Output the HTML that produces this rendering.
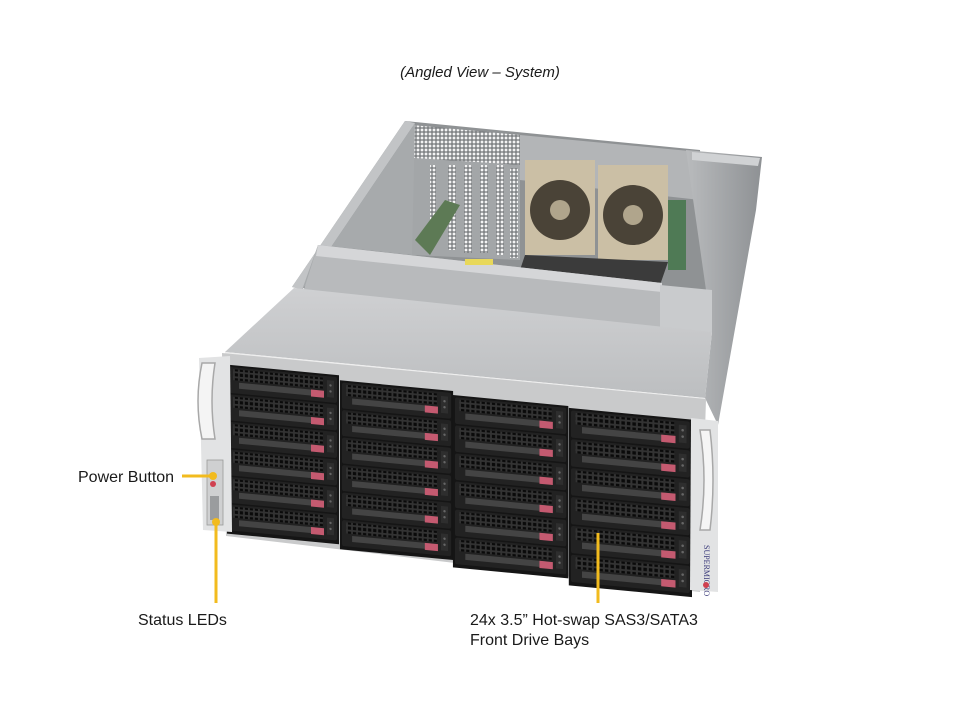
<!DOCTYPE html>
<html><head><meta charset="utf-8"><style>
html,body{margin:0;padding:0;background:#fff;width:960px;height:720px;overflow:hidden}
svg{display:block}
.t{font-family:"Liberation Sans",Arial,sans-serif;fill:#1a1a1a}
</style></head><body>
<svg width="960" height="720" viewBox="0 0 960 720" xmlns="http://www.w3.org/2000/svg">
<defs>
<pattern id="holes" width="5" height="5" patternUnits="userSpaceOnUse">
<rect width="5" height="5" fill="#333"/><rect x="0.8" y="0.8" width="3.2" height="3.2" fill="#0a0a0a"/>
</pattern>
<pattern id="grid" width="4" height="4" patternUnits="userSpaceOnUse">
<rect width="4" height="4" fill="#6f7275"/><rect x="0.6" y="0.6" width="2.8" height="2.8" fill="#f4f4f4"/>
</pattern>
<linearGradient id="lid" x1="0" y1="0" x2="0" y2="1">
<stop offset="0" stop-color="#cfd0d2"/><stop offset="1" stop-color="#bcbec0"/>
</linearGradient>
<linearGradient id="side" x1="0" y1="0" x2="1" y2="0">
<stop offset="0" stop-color="#b9bbbd"/><stop offset="1" stop-color="#8e9194"/>
</linearGradient>
<g id="drv">
<rect x="0" y="0" width="108" height="26" rx="2" fill="#222"/>
<rect x="4" y="2" width="90" height="11" fill="url(#holes)"/>
<rect x="10" y="15" width="78" height="6" fill="#444"/>
<rect x="82" y="15" width="13" height="7" fill="#c45a70"/>
<rect x="98" y="4" width="7" height="17" fill="#2e2e2e"/>
<circle cx="101.5" cy="9" r="1.2" fill="#666"/><circle cx="101.5" cy="15" r="1.2" fill="#666"/>
</g>
<g id="col">
<rect x="-2" y="-2" width="112" height="169" fill="#151515"/>
<use href="#drv" y="0"/><use href="#drv" y="27.5"/><use href="#drv" y="55"/>
<use href="#drv" y="82.5"/><use href="#drv" y="110"/><use href="#drv" y="137.5"/>
</g>
</defs>

<text class="t" x="480" y="77" font-size="15" font-style="italic" text-anchor="middle">(Angled View – System)</text>

<polygon points="405,121 700,150 712,332 292,287" fill="#8f9294"/>
<polygon points="412,125 520,135 520,165 412,158" fill="url(#grid)"/>
<polygon points="412,158 520,165 520,260 412,255" fill="#a3a6a8"/>
<rect x="430" y="165" width="6" height="80" fill="url(#grid)"/>
<rect x="448" y="165" width="8" height="85" fill="url(#grid)"/>
<rect x="464" y="165" width="8" height="88" fill="url(#grid)"/>
<rect x="480" y="165" width="8" height="88" fill="url(#grid)"/>
<rect x="496" y="165" width="8" height="90" fill="url(#grid)"/>
<rect x="510" y="168" width="8" height="90" fill="url(#grid)"/>
<polygon points="415,240 445,200 460,205 430,255" fill="#5d7a55"/>
<polygon points="520,135 700,152 700,200 520,180" fill="#b3b5b7"/>
<rect x="525" y="160" width="70" height="95" fill="#cbbfa5"/>
<rect x="598" y="165" width="70" height="95" fill="#cbbfa5"/>
<circle cx="560" cy="210" r="30" fill="#4a4337"/><circle cx="560" cy="210" r="10" fill="#b0a58c"/>
<circle cx="633" cy="215" r="30" fill="#4a4337"/><circle cx="633" cy="215" r="10" fill="#b0a58c"/>
<polygon points="525,255 668,262 660,285 520,270" fill="#3b3b3b"/>
<rect x="668" y="200" width="18" height="70" fill="#4f7a55"/>
<polygon points="405,121 415,123 302,290 292,287" fill="#c2c4c6"/>
<polygon points="415,123 412,255 318,245 302,290" fill="#a7aaac"/>
<polygon points="318,245 662,283 662,330 300,302" fill="#b8babc"/>
<polygon points="318,245 662,283 662,292 316,256" fill="#d5d6d8"/>
<rect x="465" y="259" width="28" height="6" fill="#e8d85a"/>
<polygon points="686,150 762,157 756,210 718,425 705,398 712,332" fill="url(#side)"/>
<polygon points="660,285 712,290 712,332 660,330" fill="#c9cbcd"/>
<polygon points="692,152 760,158 758,166 692,160" fill="#d0d2d4"/>
<polygon points="225,352 294,288 712,332 705,398" fill="url(#lid)"/>
<polygon points="225,352 705,398 705,402 225,356" fill="#eeeeee"/>
<polygon points="222,353 706,399 700,592 226,536" fill="#c9cacb"/>
<g transform="matrix(1,0.095,0,1,0,0)">
<use href="#col" transform="translate(229,345)"/>
<use href="#col" transform="translate(342,350) scale(1.01,1.0)"/>
<use href="#col" transform="translate(455,354) scale(1.03,1.02)"/>
<use href="#col" transform="translate(571,356) scale(1.1,1.05)"/>
</g>
<polygon points="199,358 230,356 232,532 203,530" fill="#e2e3e4"/>
<path d="M202,363 q-8,38 0,76 l13,0 q-6,-38 0,-76 z" fill="#f4f4f4" stroke="#a8a8a8" stroke-width="1.5"/>
<rect x="207" y="460" width="16" height="65" fill="#cfd0d1" stroke="#999" stroke-width="0.8"/>
<circle cx="213" cy="484" r="3" fill="#d04050"/>
<rect x="210" y="496" width="9" height="24" fill="#9a9c9e"/>
<polygon points="691,418 718,421 718,592 690,590" fill="#e2e3e4"/>
<path d="M700,430 q8,50 0,100 l10,0 q6,-50 0,-100 z" fill="#f5f5f5" stroke="#a8a8a8" stroke-width="1.5"/>
<text x="704" y="545" font-family="Liberation Serif,serif" font-size="8" fill="#3a3a7a" transform="rotate(90 704 545)">SUPERMICRO</text>
<circle cx="706" cy="585" r="3" fill="#d04050"/>

<line x1="182" y1="476" x2="212" y2="476" stroke="#f2bb1e" stroke-width="3"/>
<circle cx="213" cy="476" r="4" fill="#f2bb1e"/>
<line x1="216" y1="522" x2="216" y2="603" stroke="#f2bb1e" stroke-width="3"/>
<circle cx="216" cy="522" r="4" fill="#f2bb1e"/>
<line x1="598" y1="533" x2="598" y2="603" stroke="#f2bb1e" stroke-width="3"/>

<text class="t" x="78" y="482" font-size="16">Power Button</text>
<text class="t" x="138" y="625" font-size="16">Status LEDs</text>
<text class="t" x="470" y="625" font-size="16">24x 3.5” Hot-swap SAS3/SATA3</text>
<text class="t" x="470" y="645" font-size="16">Front Drive Bays</text>
</svg>
</body></html>
